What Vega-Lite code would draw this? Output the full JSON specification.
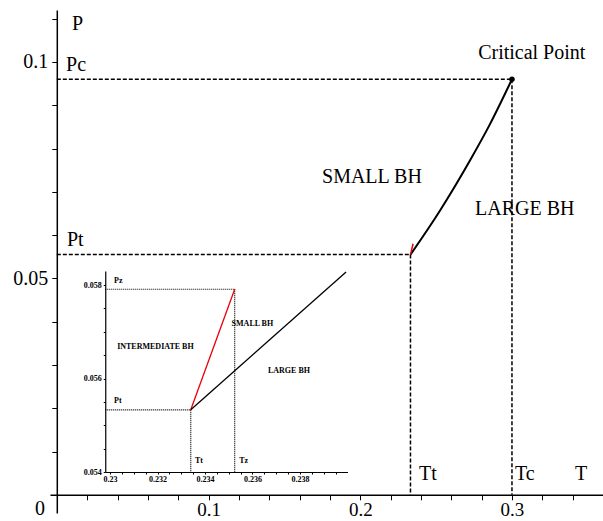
{
  "$schema": "https://vega.github.io/schema/vega-lite/v6.json",
  "width": 553,
  "height": 503,
  "padding": {"left": 50, "top": 10, "right": 0, "bottom": 8},
  "autosize": {"type": "none"},
  "background": "white",
  "config": {"view": {"stroke": null}, "axis": {"grid": false}},
  "datasets": {
    "mainDashed": [
      {"seg": "pc", "T": 0, "P": 0.096}, {"seg": "pc", "T": 0.3, "P": 0.096},
      {"seg": "tc", "T": 0.3, "P": 0.096}, {"seg": "tc", "T": 0.3, "P": 0},
      {"seg": "pt", "T": 0, "P": 0.0555}, {"seg": "pt", "T": 0.2331, "P": 0.0555},
      {"seg": "tt", "T": 0.2331, "P": 0.0555}, {"seg": "tt", "T": 0.2331, "P": 0}
    ],
    "mainCurve": [
      {"T": 0.2331, "P": 0.0555},
      {"T": 0.2526, "P": 0.0657},
      {"T": 0.2724, "P": 0.0773},
      {"T": 0.2856, "P": 0.0857},
      {"T": 0.3, "P": 0.096}
    ],
    "mainRed": [
      {"T": 0.2331, "P": 0.0555},
      {"T": 0.2348, "P": 0.058}
    ],
    "critical": [{"T": 0.3, "P": 0.096}],
    "mainLabels": [
      {"label": "P", "T": 0.0100, "P": 0.1073},
      {"label": "Pc", "T": 0.0061, "P": 0.0980},
      {"label": "Pt", "T": 0.0067, "P": 0.0574},
      {"label": "Critical Point", "T": 0.2777, "P": 0.1006},
      {"label": "SMALL BH", "T": 0.1748, "P": 0.0720},
      {"label": "LARGE BH", "T": 0.2757, "P": 0.0646},
      {"label": "Tt", "T": 0.2388, "P": 0.0034},
      {"label": "Tc", "T": 0.3020, "P": 0.0034},
      {"label": "T", "T": 0.3416, "P": 0.0034},
      {"label": "0", "T": -0.0144, "P": -0.0047}
    ],
    "insetDotted": [
      {"seg": "pz", "T": 0.2298, "P": 0.05791}, {"seg": "pz", "T": 0.23525, "P": 0.05791},
      {"seg": "tz", "T": 0.23525, "P": 0.05791}, {"seg": "tz", "T": 0.23525, "P": 0.054},
      {"seg": "pt", "T": 0.2298, "P": 0.05533}, {"seg": "pt", "T": 0.2334, "P": 0.05533},
      {"seg": "tt", "T": 0.2334, "P": 0.05533}, {"seg": "tt", "T": 0.2334, "P": 0.054}
    ],
    "insetRed": [
      {"T": 0.2334, "P": 0.05533},
      {"T": 0.23525, "P": 0.05791}
    ],
    "insetBlack": [
      {"T": 0.2334, "P": 0.05533},
      {"T": 0.23994, "P": 0.05828}
    ],
    "insetLabels": [
      {"label": "Pz", "T": 0.23017, "P": 0.05804},
      {"label": "Pt", "T": 0.23017, "P": 0.05548},
      {"label": "INTERMEDIATE BH", "T": 0.2303, "P": 0.05663},
      {"label": "SMALL BH", "T": 0.23512, "P": 0.05713},
      {"label": "LARGE BH", "T": 0.23665, "P": 0.05612},
      {"label": "Tt", "T": 0.23358, "P": 0.05419},
      {"label": "Tz", "T": 0.23544, "P": 0.05419}
    ]
  },
  "layer": [
    {
      "encoding": {
        "x": {
          "field": "T", "type": "quantitative",
          "scale": {"domain": [-0.0045, 0.36], "nice": false, "zero": false},
          "axis": {
            "title": null, "orient": "bottom", "offset": -18.2,
            "values": [0.02, 0.04, 0.06, 0.08, 0.1, 0.12, 0.14, 0.16, 0.18, 0.2, 0.22, 0.24, 0.26, 0.28, 0.3, 0.32, 0.34, 0.36],
            "labelExpr": "(datum.value == 0.1 || datum.value == 0.2 || datum.value == 0.3) ? format(datum.value, '.1f') : ''",
            "tickSize": 5, "tickWidth": 1, "tickColor": "black",
            "domainColor": "black", "domainWidth": 1.5,
            "labelPadding": 1, "labelFont": "Liberation Serif, DejaVu Serif, serif", "labelFontSize": 19, "labelColor": "black",
            "labelFlush": false, "labelOverlap": false, "labelBound": false
          }
        },
        "y": {
          "field": "P", "type": "quantitative",
          "scale": {"domain": [-0.0042, 0.112], "nice": false, "zero": false},
          "axis": {
            "title": null, "orient": "left", "offset": -6.8,
            "values": [0.01, 0.02, 0.03, 0.04, 0.05, 0.06, 0.07, 0.08, 0.09, 0.1, 0.11],
            "labelExpr": "datum.value == 0.05 ? '0.05' : (datum.value == 0.1 ? '0.1' : '')",
            "tickSize": 5, "tickWidth": 1, "tickColor": "black",
            "domainColor": "black", "domainWidth": 1.5,
            "labelPadding": 4, "labelFont": "Liberation Serif, DejaVu Serif, serif", "labelFontSize": 20, "labelColor": "black",
            "labelFlush": false, "labelOverlap": false, "labelBound": false
          }
        }
      },
      "layer": [
        {"data": {"name": "mainDashed"}, "mark": {"type": "line", "color": "black", "strokeWidth": 1.5, "strokeDash": [4, 2]}, "encoding": {"detail": {"field": "seg"}}},
        {"data": {"name": "mainCurve"}, "mark": {"type": "line", "color": "black", "strokeWidth": 2, "interpolate": "monotone"}, "encoding": {}},
        {"data": {"name": "mainRed"}, "mark": {"type": "line", "color": "#e8000b", "strokeWidth": 1.5}, "encoding": {}},
        {"data": {"name": "critical"}, "mark": {"type": "point", "filled": true, "size": 30, "color": "black", "opacity": 1}},
        {"data": {"name": "mainLabels"}, "mark": {"type": "text", "align": "left", "baseline": "alphabetic", "font": "Liberation Serif, DejaVu Serif, serif", "fontSize": 20, "color": "black"}, "encoding": {"text": {"field": "label"}}}
      ]
    },
    {
      "encoding": {
        "x": {
          "field": "T", "type": "quantitative",
          "scale": {"domain": [0.2298, 0.24], "range": [55.25, 297.5], "nice": false, "zero": false},
          "axis": {
            "title": null, "orient": "bottom", "offset": -41,
            "values": [0.23, 0.2305, 0.231, 0.2315, 0.232, 0.2325, 0.233, 0.2335, 0.234, 0.2345, 0.235, 0.2355, 0.236, 0.2365, 0.237, 0.2375, 0.238, 0.2385, 0.239, 0.2395],
            "labelExpr": "round(datum.value * 10000) % 20 == 0 ? format(datum.value, '.3~f') : ''",
            "tickSize": 2, "tickWidth": 1, "tickColor": "black",
            "domainColor": "black", "domainWidth": 1.2,
            "labelPadding": 1, "labelFont": "Liberation Serif, DejaVu Serif, serif", "labelFontSize": 8, "labelFontWeight": "bold", "labelColor": "black",
            "labelFlush": false, "labelOverlap": false, "labelBound": false
          }
        },
        "y": {
          "field": "P", "type": "quantitative",
          "scale": {"domain": [0.054, 0.0583], "range": [462, 261], "nice": false, "zero": false},
          "axis": {
            "title": null, "orient": "left", "offset": -55.25,
            "values": [0.054, 0.0545, 0.055, 0.0555, 0.056, 0.0565, 0.057, 0.0575, 0.058],
            "labelExpr": "round(datum.value * 10000) % 20 == 0 ? format(datum.value, '.3f') : ''",
            "tickSize": 2, "tickWidth": 1, "tickColor": "black",
            "domainColor": "black", "domainWidth": 1.2,
            "labelPadding": 2, "labelFont": "Liberation Serif, DejaVu Serif, serif", "labelFontSize": 8, "labelFontWeight": "bold", "labelColor": "black",
            "labelFlush": false, "labelOverlap": false, "labelBound": false
          }
        }
      },
      "layer": [
        {"data": {"name": "insetDotted"}, "mark": {"type": "line", "color": "black", "strokeWidth": 1.2, "strokeDash": [1, 1]}, "encoding": {"detail": {"field": "seg"}}},
        {"data": {"name": "insetRed"}, "mark": {"type": "line", "color": "#e8000b", "strokeWidth": 1.3}, "encoding": {}},
        {"data": {"name": "insetBlack"}, "mark": {"type": "line", "color": "black", "strokeWidth": 1.3}, "encoding": {}},
        {"data": {"name": "insetLabels"}, "mark": {"type": "text", "align": "left", "baseline": "alphabetic", "font": "Liberation Serif, DejaVu Serif, serif", "fontSize": 8, "fontWeight": "bold", "color": "black"}, "encoding": {"text": {"field": "label"}}}
      ]
    }
  ],
  "resolve": {
    "scale": {"x": "independent", "y": "independent"},
    "axis": {"x": "independent", "y": "independent"}
  }
}
